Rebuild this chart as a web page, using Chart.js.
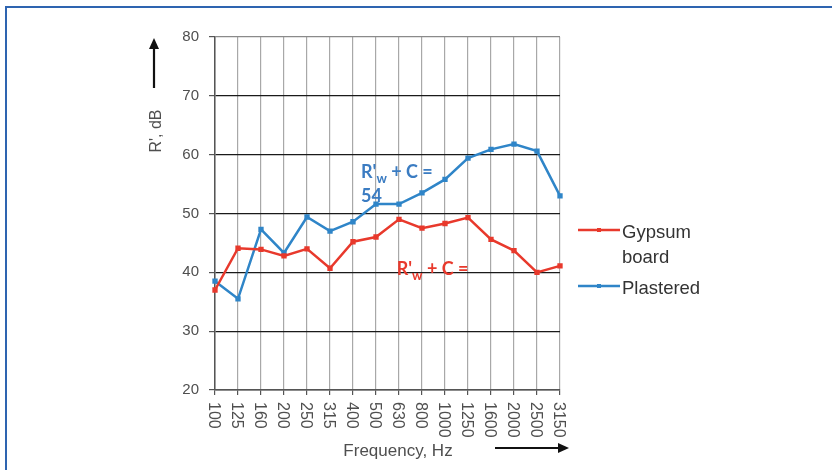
<!DOCTYPE html>
<html>
<head>
<meta charset="utf-8">
<script src="https://cdn.jsdelivr.net/npm/chart.js@4.4.1/dist/chart.umd.min.js"></script>
<style>
  html, body { margin: 0; padding: 0; background: #fff; }
  #wrap { position: relative; width: 832px; height: 470px; overflow: hidden; }
  #frame { position: absolute; left: 5px; top: 6px; right: -10px; bottom: -10px;
           border-top: 2px solid #2e64b0; border-left: 2px solid #2e64b0; }
  canvas { position: absolute; left: 0; top: 0; }
</style>
</head>
<body>
<div id="wrap">
  <div id="frame"></div>
  <canvas id="chart" width="832" height="470"></canvas>
</div>
<script>
// sound reduction index per 1/3-octave band
const frequencies = ['100', '125', '160', '200', '250', '315', '400', '500', '630', '800', '1000', '1250', '1600', '2000', '2500', '3150'];
const gypsumBoard = [37.0, 44.1, 43.9, 42.8, 44.0, 40.7, 45.2, 46.0, 49.0, 47.5, 48.3, 49.3, 45.6, 43.7, 40.0, 41.1];
const plastered = [38.5, 35.5, 47.3, 43.3, 49.4, 47.0, 48.6, 51.6, 51.6, 53.5, 55.8, 59.4, 60.9, 61.8, 60.6, 53.0];
const yMin = 20;
const yMax = 80;
const yStep = 10;

const redColor = '#e8392c';
const blueColor = '#2f85c8';
const textColor = '#4f4f4f';
const fontFamily = '"Liberation Sans", Arial, sans-serif';
const noteFont = 'Lato, "Open Sans", sans-serif';

function drawArrow(ctx, x1, y1, x2, y2) {
  const ang = Math.atan2(y2 - y1, x2 - x1);
  const head = 11;
  ctx.save();
  ctx.strokeStyle = '#111';
  ctx.fillStyle = '#111';
  ctx.lineWidth = 2.2;
  ctx.beginPath();
  ctx.moveTo(x1, y1);
  ctx.lineTo(x2 - Math.cos(ang) * head * 0.8, y2 - Math.sin(ang) * head * 0.8);
  ctx.stroke();
  ctx.beginPath();
  ctx.moveTo(x2, y2);
  ctx.lineTo(x2 - head * Math.cos(ang) + 5 * Math.sin(ang), y2 - head * Math.sin(ang) - 5 * Math.cos(ang));
  ctx.lineTo(x2 - head * Math.cos(ang) - 5 * Math.sin(ang), y2 - head * Math.sin(ang) + 5 * Math.cos(ang));
  ctx.closePath();
  ctx.fill();
  ctx.restore();
}

// R'w + C = label with subscript w
function drawRating(ctx, x, y, color, suffix) {
  ctx.save();
  ctx.fillStyle = color;
  ctx.textBaseline = 'alphabetic';
  ctx.textAlign = 'left';
  ctx.font = 'bold 18px ' + noteFont;
  ctx.fillText("R'", x, y);
  let cx = x + ctx.measureText("R'").width;
  ctx.font = 'bold 13px ' + noteFont;
  ctx.fillText('w', cx, y + 5);
  cx += ctx.measureText('w').width;
  ctx.font = 'bold 18px ' + noteFont;
  ctx.fillText(' + C =', cx, y);
  if (suffix) ctx.fillText(suffix, x, y + 24);
  ctx.restore();
}

const decorPlugin = {
  id: 'decor',
  afterDraw(chart) {
    const ctx = chart.ctx;
    const xs = chart.scales.x;
    const ys = chart.scales.y;
    const area = chart.chartArea;

    // x tick labels, rotated clockwise (read top to bottom)
    ctx.save();
    ctx.fillStyle = textColor;
    ctx.font = '16px ' + fontFamily;
    ctx.textAlign = 'left';
    ctx.textBaseline = 'middle';
    frequencies.forEach((lab, i) => {
      const px = xs.getPixelForTick(i);
      ctx.save();
      ctx.translate(px - 2, area.bottom + 12);
      ctx.rotate(Math.PI / 2);
      ctx.fillText(lab, 0, 0);
      ctx.restore();
    });

    // axis titles
    ctx.font = '17px ' + fontFamily;
    ctx.textAlign = 'center';
    ctx.textBaseline = 'alphabetic';
    ctx.fillText('Frequency, Hz', 398, 456);
    ctx.save();
    ctx.translate(161, 131);
    ctx.rotate(-Math.PI / 2);
    ctx.font = '16px ' + fontFamily;
    ctx.fillText("R', dB", 0, 0);
    ctx.restore();
    ctx.restore();

    drawArrow(ctx, 154, 88, 154, 38);
    drawArrow(ctx, 495, 448, 569, 448);

    // rating notes, anchored in data space
    drawRating(ctx, xs.getPixelForValue(6.35), ys.getPixelForValue(56.0), '#3b7cc2', '54');
    drawRating(ctx, xs.getPixelForValue(7.9), ys.getPixelForValue(39.5), redColor, null);

    // legend
    const lx = area.right + 18;
    const items = [
      { color: redColor, lines: ['Gypsum', 'board'], y: 230 },
      { color: blueColor, lines: ['Plastered'], y: 286 }
    ];
    items.forEach(it => {
      ctx.save();
      ctx.strokeStyle = it.color;
      ctx.fillStyle = it.color;
      ctx.lineWidth = 2.5;
      ctx.beginPath();
      ctx.moveTo(lx, it.y);
      ctx.lineTo(lx + 42, it.y);
      ctx.stroke();
      ctx.fillRect(lx + 19, it.y - 2, 4, 4);
      ctx.fillStyle = '#333';
      ctx.font = '18.5px ' + fontFamily;
      ctx.textAlign = 'left';
      ctx.textBaseline = 'alphabetic';
      it.lines.forEach((t, k) => ctx.fillText(t, lx + 44, it.y + 8 + k * 25));
      ctx.restore();
    });
  }
};

new Chart(document.getElementById('chart'), {
  type: 'line',
  data: {
    labels: frequencies,
    datasets: [
      {
        label: 'Gypsum board',
        data: gypsumBoard,
        borderColor: redColor,
        backgroundColor: redColor,
        borderWidth: 2.5,
        pointStyle: 'rect',
        pointRadius: 2,
        tension: 0
      },
      {
        label: 'Plastered',
        data: plastered,
        borderColor: blueColor,
        backgroundColor: blueColor,
        borderWidth: 2.5,
        pointStyle: 'rect',
        pointRadius: 2,
        tension: 0
      }
    ]
  },
  options: {
    responsive: false,
    animation: false,
    layout: { padding: { left: 0, right: 272, top: 37, bottom: 0 } },
    plugins: {
      legend: { display: false },
      tooltip: { enabled: false }
    },
    scales: {
      x: {
        offset: false,
        afterFit(scale) { scale.height = 80; },
        grid: {
          color: '#a8a8a8',
          lineWidth: 1.2,
          tickLength: 5,
          tickColor: '#555'
        },
        border: { color: '#555', width: 1.5 },
        ticks: { display: false }
      },
      y: {
        min: yMin,
        max: yMax,
        afterFit(scale) { scale.width = 215; },
        grid: {
          color: ctx => (ctx.tick && ctx.tick.value === yMax ? '#8a8a8a' : '#1a1a1a'),
          lineWidth: 1.2,
          tickLength: 6,
          tickColor: '#555'
        },
        border: { color: '#555', width: 1.5 },
        ticks: {
          stepSize: yStep,
          padding: 10,
          color: textColor,
          font: { family: fontFamily, size: 15 }
        }
      }
    }
  },
  plugins: [decorPlugin]
});
</script>
</body>
</html>
